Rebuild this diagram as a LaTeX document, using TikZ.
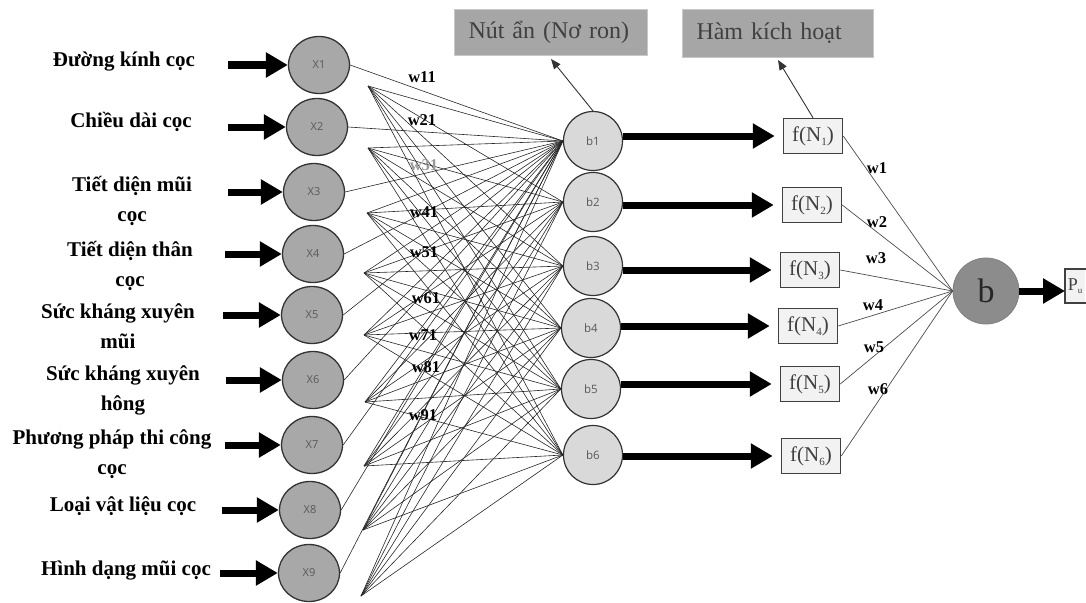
\documentclass[tikz,border=0pt]{standalone}
\usepackage{fontspec}
\setmainfont{Liberation Serif}
\setsansfont{Open Sans}
\usetikzlibrary{arrows.meta,shapes.geometric}
\definecolor{xfill}{RGB}{168,168,168}
\definecolor{hfill}{RGB}{217,217,217}
\definecolor{ofill}{RGB}{140,140,140}
\definecolor{notefill}{RGB}{166,166,166}
\definecolor{noteedge}{RGB}{200,200,200}
\definecolor{ffill}{RGB}{242,242,242}
\newcommand{\lowsub}[1]{\raisebox{-0.4ex}{\fontsize{11}{11}\selectfont #1}}
\newcommand{\tinysub}[1]{\raisebox{-0.4ex}{\fontsize{9}{9}\selectfont #1}}
\begin{document}
\begin{tikzpicture}[x=1pt,y=-1pt,
 inp/.style={ellipse, draw=black!80, line width=1.3pt, fill=xfill, minimum width=61pt, minimum height=57pt, inner sep=0pt, font=\sffamily\fontsize{11}{11}\selectfont, text=black!65},
 hid/.style={circle, draw=black!80, line width=1.2pt, fill=hfill, minimum size=59pt, inner sep=0pt, font=\sffamily\fontsize{11.5}{11.5}\selectfont, text=black!65},
 fbox/.style={rectangle, draw=black!75, line width=1.5pt, fill=ffill, minimum width=59pt, minimum height=35pt, inner sep=0pt, font=\fontsize{21}{21}\selectfont, text=black!75},
 lab/.style={align=center, inner sep=0pt, font=\bfseries\fontsize{21}{30}\selectfont},
 wl/.style={inner sep=0pt, font=\bfseries\fontsize{16.5}{16.5}\selectfont},
 note/.style={rectangle, anchor=north west, draw=noteedge, line width=1pt, fill=notefill, inner xsep=14pt, align=left, font=\fontsize{24}{24}\selectfont, text=black!75},
 bigarrow/.style={line width=7pt, -{Triangle[length=22pt,width=24pt]}},
 link/.style={black!85, line width=0.6pt},
 rlink/.style={black!70, line width=0.7pt},
 thinarrow/.style={black!80, line width=0.9pt, -{Triangle[length=10pt,width=8pt]}}
]
\useasboundingbox (0,0) rectangle (1086,602);

% input labels
\node[lab] (l1) at (124,62) {Đường kính cọc};
\node[lab] (l2) at (131,122) {Chiều dài cọc};
\node[lab] (l3) at (132,201) {Tiết diện mũi\\cọc};
\node[lab] (l4) at (130,266) {Tiết diện thân\\cọc};
\node[lab] (l5) at (118,326) {Sức kháng xuyên\\mũi};
\node[lab] (l6) at (123,390) {Sức kháng xuyên\\hông};
\node[lab] (l7) at (112,454) {Phương pháp thi công\\cọc};
\node[lab] (l8) at (123,506) {Loại vật liệu cọc};
\node[lab] (l9) at (126,571) {Hình dạng mũi cọc};

% input nodes
\node[inp] (x1) at (319,65) {X1};
\node[inp] (x2) at (317,127) {X2};
\node[inp] (x3) at (314,192) {X3};
\node[inp] (x4) at (313,254) {X4};
\node[inp] (x5) at (312,315) {X5};
\node[inp] (x6) at (313,380) {X6};
\node[inp] (x7) at (312,445) {X7};
\node[inp] (x8) at (310,510) {X8};
\node[inp] (x9) at (309,573) {X9};

% arrow starts
\coordinate (s1) at (228,65);
\coordinate (s2) at (228,127);
\coordinate (s3) at (228,192);
\coordinate (s4) at (225,254);
\coordinate (s5) at (223,315);
\coordinate (s6) at (226,380);
\coordinate (s7) at (225,445);
\coordinate (s8) at (222,510);
\coordinate (s9) at (220,573);
\foreach \i in {1,...,9} \draw[bigarrow] (s\i) -- (x\i.west);

% hidden nodes
\node[hid] (b1) at (593,141) {b1};
\node[hid] (b2) at (593,202) {b2};
\node[hid] (b3) at (593,266) {b3};
\node[hid] (b4) at (591,328) {b4};
\node[hid] (b5) at (591,389) {b5};
\node[hid] (b6) at (593,455) {b6};

% fan points
\coordinate (a1) at (368,86);
\coordinate (a2) at (368,148);
\coordinate (a3) at (367,213);
\coordinate (a4) at (364,273);
\coordinate (a5) at (364,335);
\coordinate (a6) at (365,402);
\coordinate (a7) at (364,466);
\coordinate (a8) at (363,530);
\coordinate (a9) at (361,596);

\foreach \i in {1,...,9}{
  \foreach \j in {1,...,6} \draw[link] (a\i) -- (b\j.west);
  \draw[link] (x\i.east) -- (b1.west);
}

% weight labels
\node[wl] (w11) at (422,77) {w11};
\node[wl] (w21) at (422,120) {w21};
\node[wl, text=black!40] (w31) at (424,165) {w31};
\node[wl] (w41) at (424,212) {w41};
\node[wl] (w51) at (424,252) {w51};
\node[wl] (w61) at (426,298) {w61};
\node[wl] (w71) at (423,335) {w71};
\node[wl] (w81) at (426,367) {w81};
\node[wl] (w91) at (423,415) {w91};

% activation boxes
\node[fbox] (f1) at (813,136) {f(N\lowsub{1})};
\node[fbox] (f2) at (812,205) {f(N\lowsub{2})};
\node[fbox] (f3) at (810,270) {f(N\lowsub{3})};
\node[fbox] (f4) at (808,326) {f(N\lowsub{4})};
\node[fbox] (f5) at (810,384) {f(N\lowsub{5})};
\node[fbox] (f6) at (811,456) {f(N\lowsub{6})};
\foreach \i in {1,...,6} \draw[bigarrow, shorten >=8pt] (b\i.east |- f\i.west) -- (f\i.west);

% output neuron
\node[circle, draw=black!50, line width=0.8pt, fill=ofill, minimum size=66pt, inner sep=0pt, font=\fontsize{34}{34}\selectfont, text=black!85] (bo) at (986,291) {b};
\foreach \i in {1,...,6} \draw[rlink] (f\i.east) -- (bo.west);

\node[wl] (w1) at (877,168) {w1};
\node[wl] (w2) at (877,222) {w2};
\node[wl] (w3) at (876,258) {w3};
\node[wl] (w4) at (873,305) {w4};
\node[wl] (w5) at (874,347) {w5};
\node[wl] (w6) at (878,389) {w6};

% output box, cut by the right edge of the picture
\node[rectangle, fill=ffill, anchor=west, minimum width=20pt, minimum height=34pt, inner xsep=2pt, inner ysep=0pt, text=black!75, font=\fontsize{18}{18}\selectfont] (pu) at (1065,286) {P\tinysub{u}};
\draw[black!75, line width=1.5pt] ([xshift=3pt]pu.north east) -- (pu.north west) -- (pu.south west) -- ([xshift=3pt]pu.south east);
\draw[bigarrow] (bo.east) -- (bo.east -| pu.west);

% notes
\node[note, text width=165pt, minimum height=46pt] (n1) at (454,9) {Nút ẩn (Nơ ron)};
\node[note, text width=163pt, minimum height=48pt] (n2) at (682,9) {Hàm kích hoạt};
\draw[thinarrow] (b1.north) -- ([yshift=-3pt]n1.south);
\draw[thinarrow] (f1.north) -- ([yshift=-2pt]n2.south);
\end{tikzpicture}
\end{document}
